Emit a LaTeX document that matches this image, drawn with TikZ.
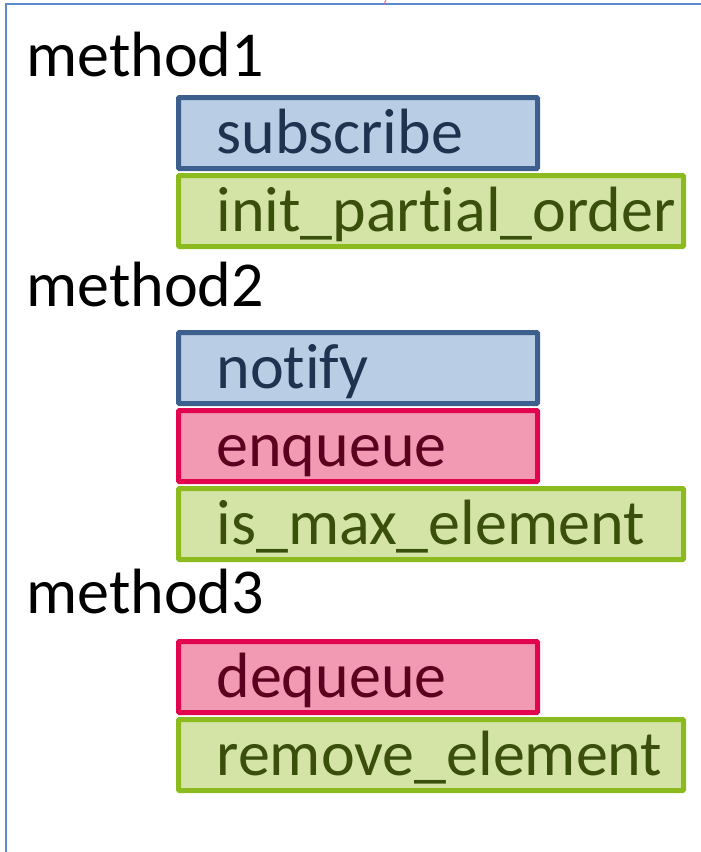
\documentclass[tikz,border=0pt]{standalone}
\usepackage{fontspec}
\setmainfont{Carlito}[Ligatures=NoCommon]
\usetikzlibrary{positioning}

\definecolor{FrameBlue}{HTML}{5B8BCB}
\definecolor{SubFill}{HTML}{B9CDE5}
\definecolor{SubLine}{HTML}{3C5F8D}
\definecolor{SubText}{HTML}{1F3350}
\definecolor{QueFill}{HTML}{F29AB4}
\definecolor{QueLine}{HTML}{E2044F}
\definecolor{QueText}{HTML}{5C0020}
\definecolor{OrdFill}{HTML}{D3E4A6}
\definecolor{OrdLine}{HTML}{8CBB1F}
\definecolor{OrdText}{HTML}{3A4F0C}

\begin{document}
\begin{tikzpicture}[x=1pt, y=-1pt, node distance=2pt,
	big/.style={font=\fontsize{64}{76}\selectfont},
	box/.style={big, rectangle, rounded corners=1pt, line width=5pt, inner xsep=0pt, inner ysep=0pt,
	  text height=53pt, text depth=13pt, minimum height=71pt, align=left,
	  execute at begin node={\hspace*{38pt}}},
	short/.style={box, text width=359pt},
	long/.style={box, text width=505pt},
	msg/.style={draw=SubLine, fill=SubFill, text=SubText},
	que/.style={draw=QueLine, fill=QueFill, text=QueText},
	ord/.style={draw=OrdLine, fill=OrdFill, text=OrdText}]
	\useasboundingbox (0,0) rectangle (701,852);
	\draw[color=FrameBlue, line width=2pt] (6,852) -- (6,4) -- (701,4);
	\draw[color=QueLine!60, line width=1pt] (386,0) -- (384,4);
	% method1
	\node[big, anchor=base west] (m1) at (23,76) {method1};
	\node[short, msg, anchor=north west] (subscribe) at (176,95) {subscribe};
	\node[long, ord, below=of subscribe.south west, anchor=north west] (init) {init\_partial\_order};
	% method2
	\node[big, anchor=base west] (m2) at (23,306) {method2};
	\node[short, msg, anchor=north west] (notify) at (176,330) {notify};
	\node[short, que, below=of notify] (enqueue) {enqueue};
	\node[long, ord, below=of enqueue.south west, anchor=north west] (ismax) {is\_max\_element};
	% method3
	\node[big, anchor=base west] (m3) at (23,613) {method3};
	\node[short, que, anchor=north west] (dequeue) at (176,639) {dequeue};
	\node[long, ord, below=of dequeue.south west, anchor=north west] (remove) {remove\_element};
\end{tikzpicture}
\end{document}
